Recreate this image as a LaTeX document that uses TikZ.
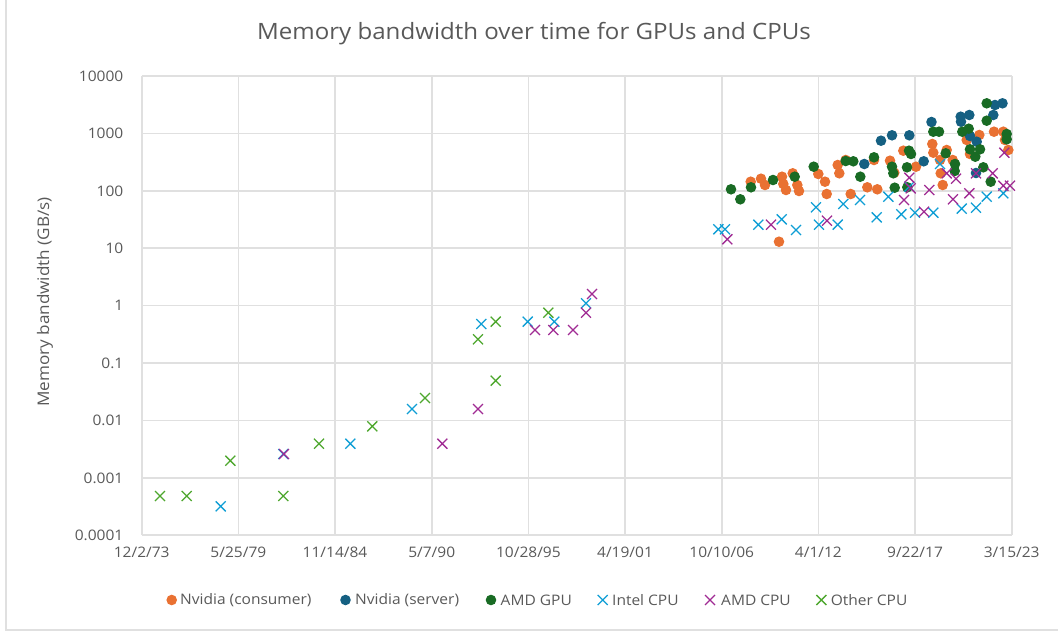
\documentclass[tikz,border=0pt]{standalone}
\usepackage{fontspec}
\setmainfont{Open Sans}[FakeStretch=1.07]
\definecolor{txtgray}{HTML}{595959}
\definecolor{gridgray}{HTML}{E0E0E0}
\definecolor{nvcons}{HTML}{E97132}
\definecolor{nvserv}{HTML}{156082}
\definecolor{amdgpu}{HTML}{196B24}
\definecolor{intelcpu}{HTML}{0F9ED5}
\definecolor{amdcpu}{HTML}{A02B93}
\definecolor{othercpu}{HTML}{4EA72E}
\tikzset{
  gridline/.style={draw=gridgray, line width=1.7pt},
  ticklabel/.style={text=txtgray, font=\fontsize{14.5}{16}\selectfont, inner sep=0pt},
  pics/dotmark/.style={code={\fill circle (5.3);}},
  pics/crossmark/.style={code={\draw[line width=1.3pt] (-5,-5) -- (5,5) (-5,5) -- (5,-5);}},
}
\begin{document}
\begin{tikzpicture}[x=1pt,y=-1pt]
\useasboundingbox (0,0) rectangle (1058,632);
% chart frame
\draw[gridgray, line width=1.7pt] (6,-5) -- (6,630) -- (1065,630);
% title
\node[text=txtgray, font=\fontsize{22.5}{26}\selectfont, anchor=base, inner sep=0pt] (title) at (534,39.3) {Memory bandwidth over time for GPUs and CPUs};
% grid
\foreach \i in {0,...,9}
  \draw[gridline] ({141.7+96.667*\i},76) -- ({141.7+96.667*\i},535.3);
\foreach \j in {0,...,8}
  \draw[gridline] (141.7,{76+57.41*\j}) -- (1011.7,{76+57.41*\j});
% value axis labels
\foreach \v [count=\j from 0] in {10000,1000,100,10,1,0.1,0.01,0.001,0.0001}
  \node[ticklabel, anchor=east] (ylab\j) at (123.5,{76+57.41*\j}) {\v};
% date axis labels
\foreach \d [count=\i from 0] in {12/2/73,5/25/79,11/14/84,5/7/90,10/28/95,4/19/01,10/10/06,4/1/12,9/22/17,3/15/23}
  \node[ticklabel, anchor=center] (xlab\i) at ({141.7+96.667*\i},552) {\d};
% axis title
\node[ticklabel, font=\fontsize{16}{18}\selectfont, rotate=90, anchor=center] (ytitle) at (45,302) {Memory bandwidth (GB/s)};
% Nvidia (consumer)
\foreach \x/\y in {750.7/181.7,761/178.7,765/185,782/176.7,783.3/184,786/190,792.7/173.3,797.3/185,799/191,818.3/174,825/181.7,826.7/194,837.7/165,839.3/173.3,845.7/160,850.7/194,867.3/187.3,877.3/189.3,874/160,890/160.7,894.3/172.7,903.3/150.7,916/166.7,932.3/144,933.3/152.7,940/160,940.7/173.3,942.7/185,946.7/150,952.7/160,966.7/140,970/154,979.3/135,994/131.7,1003.3/131.7,1005/140,1008.3/150,779/241.7}
  \pic[nvcons] at (\x,\y) {dotmark};
% Nvidia (server)
\foreach \x/\y in {864.3/164,881/140.7,892/135.3,909.3/135.3,923.7/161.3,931.5/122,960.7/116.7,961/121.7,969.3/115,993.3/115,995/105,1002.5/103.3,970/136,976.7/141.7,976/173}
  \pic[nvserv] at (\x,\y) {dotmark};
% AMD GPU
\foreach \x/\y in {731/189.3,740.3/199.3,751/187.3,773/180,794.7/176.7,813.7/166.7,845.7/161,853.3/161.3,860.3/176.7,874/157.3,892/166.7,893.3/173.3,894.7/187.7,907/167.3,907.3/187.3,909/150.7,911/154,933.3/131.7,939/131.7,945.7/153.3,955/164,954.7/171,962.3/131.7,968.7/128.7,970/149.3,975.3/156.7,980/149.3,983.3/167.3,986.7/103.3,986.7/120.7,990.7/181.7,1006.7/134,1006.7/139.3}
  \pic[amdgpu] at (\x,\y) {dotmark};
% Intel CPU
\foreach \x/\y in {220.7/506.3,283.3/454,350.3/443.7,412/409,481.3/324,527.7/321.7,554.3/321.7,586/303.3,718.3/229.3,725/229.3,758.3/224.7,781.7/219.3,796/230,816/207.3,819/224.7,837.7/224.7,843.3/204,860/200,876.7/217.3,888.3/196.7,901.3/214.3,909.3/186.7,915/212.7,933.3/212.7,940/164,961.7/208.7,976/207.7,986.7/196.7,1003.3/193.3}
  \pic[intelcpu] at (\x,\y) {crossmark};
% AMD CPU
\foreach \x/\y in {284/454,442.3/443.7,478/409,535/330,553.3/330,573/330,586/312.7,592/294,727.3/239.3,771/224.7,827/220.7,904/200,909.3/177.7,910.7/188.3,924/211.7,929.3/190,946.7/173.3,953/199.3,956/178.7,969.3/193.3,976/173.3,992.7/173.3,1004.3/152.7,1003.3/185.7,1010/185.7}
  \pic[amdcpu] at (\x,\y) {crossmark};
% Other CPU
\foreach \x/\y in {160/496,186.7/496,230.3/460.7,283.3/496,319/443.7,372.3/426.3,425/398,478/339.3,495.7/321.7,495.7/380.7,548.3/312.7}
  \pic[othercpu] at (\x,\y) {crossmark};
% legend
\pic[nvcons] at (171.7,600) {dotmark};
\node[ticklabel, anchor=west] (leg1) at (180,600) {Nvidia (consumer)};
\pic[nvserv] at (345.5,600) {dotmark};
\node[ticklabel, anchor=west] (leg2) at (355,600) {Nvidia (server)};
\pic[amdgpu] at (491,600) {dotmark};
\node[ticklabel, anchor=west] (leg3) at (500.5,600) {AMD GPU};
\pic[intelcpu] at (602.7,600) {crossmark};
\node[ticklabel, anchor=west] (leg4) at (612,600) {Intel CPU};
\pic[amdcpu] at (710,600) {crossmark};
\node[ticklabel, anchor=west] (leg5) at (721,600) {AMD CPU};
\pic[othercpu] at (821.4,600) {crossmark};
\node[ticklabel, anchor=west] (leg6) at (830.6,600) {Other CPU};
\end{tikzpicture}
\end{document}
